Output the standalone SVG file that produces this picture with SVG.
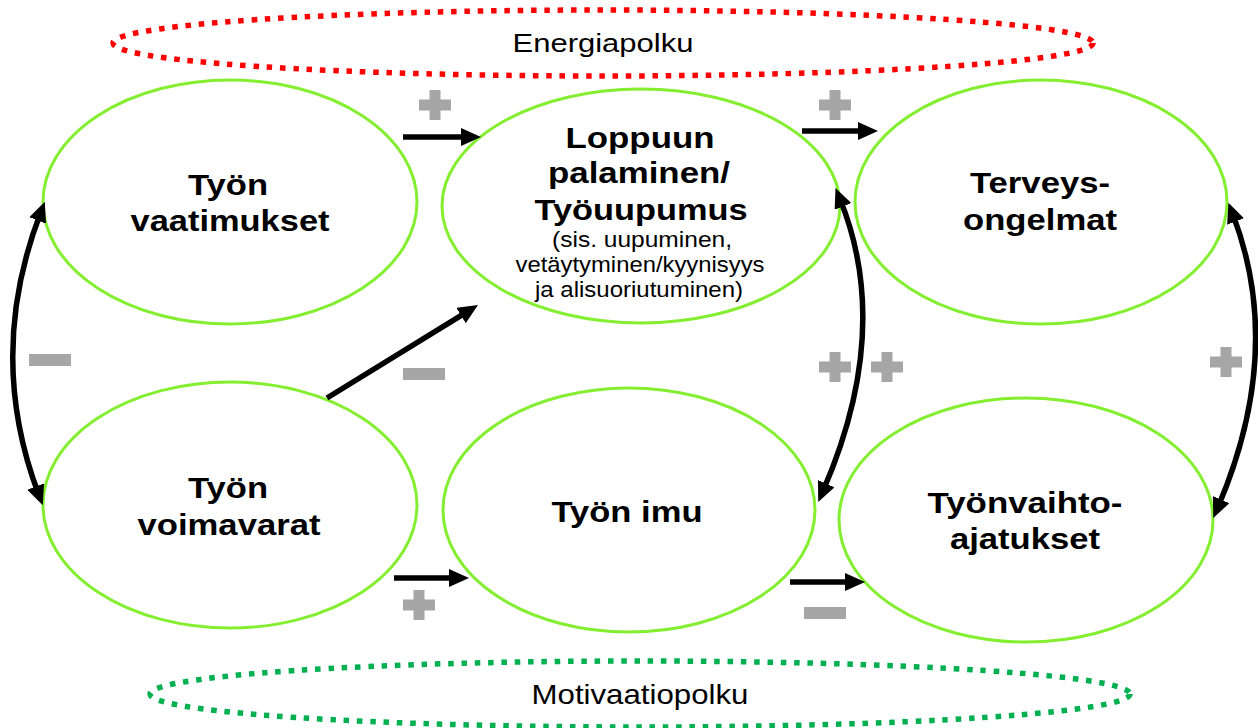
<svg xmlns="http://www.w3.org/2000/svg" width="1258" height="728" viewBox="0 0 1258 728">
  <style>
    .node { fill: #ffffff; stroke: #84ee30; stroke-width: 3; }
    .title { font-family: "Liberation Sans", Arial, sans-serif; font-weight: bold; font-size: 30px; fill: #000; text-anchor: middle; }
    .sub { font-family: "Liberation Sans", Arial, sans-serif; font-size: 22px; fill: #000; text-anchor: middle; }
    .path-label { font-family: "Liberation Sans", Arial, sans-serif; fill: #000; text-anchor: middle; }
    .link { fill: none; stroke: #000; stroke-width: 5.5; }
    .sign { fill: #a6a6a6; }
    .energy { fill: none; stroke: #ff0000; stroke-width: 5.5; stroke-dasharray: 5.5 7.8; }
    .motiv { fill: none; stroke: #00b050; stroke-width: 5.5; stroke-dasharray: 5.5 7.8; }
  </style>
  <defs>
    <marker id="ah" viewBox="0 0 20 18" refX="8" refY="9" markerWidth="20" markerHeight="18" markerUnits="userSpaceOnUse" orient="auto-start-reverse">
      <path d="M0,0 L20,9 L0,18 z" fill="#000"/>
    </marker>
    <path id="plus" d="M-5.5,-15 h11 v9.5 h10.5 v11 h-10.5 v9.5 h-11 v-9.5 h-10.5 v-11 h10.5 z"/>
    <rect id="minus" x="-21" y="-6" width="42" height="12"/>
  </defs>

  <rect width="1258" height="728" fill="#ffffff"/>

  <!-- pathway outlines -->
  <g id="energiapolku">
    <ellipse class="energy" cx="603" cy="43" rx="490" ry="33"/>
    <text class="path-label" x="603" y="52" font-size="26" textLength="181" lengthAdjust="spacingAndGlyphs">Energiapolku</text>
  </g>
  <g id="motivaatiopolku">
    <ellipse class="motiv" cx="640" cy="694" rx="490" ry="33"/>
    <text class="path-label" x="640" y="704" font-size="28" textLength="217" lengthAdjust="spacingAndGlyphs">Motivaatiopolku</text>
  </g>

  <!-- nodes -->
  <g id="tyon-vaatimukset">
    <ellipse class="node" cx="230" cy="202" rx="187" ry="122"/>
    <text class="title" x="228" y="195" textLength="80" lengthAdjust="spacingAndGlyphs">Työn</text>
    <text class="title" x="230" y="231" textLength="199" lengthAdjust="spacingAndGlyphs">vaatimukset</text>
  </g>
  <g id="loppuun-palaminen">
    <ellipse class="node" cx="641" cy="206" rx="199" ry="117"/>
    <text class="title" x="640" y="148" textLength="149" lengthAdjust="spacingAndGlyphs">Loppuun</text>
    <text class="title" x="639" y="183" textLength="182" lengthAdjust="spacingAndGlyphs">palaminen/</text>
    <text class="title" x="641" y="220" textLength="213" lengthAdjust="spacingAndGlyphs">Työuupumus</text>
    <text class="sub" x="642" y="247" textLength="180" lengthAdjust="spacingAndGlyphs">(sis. uupuminen,</text>
    <text class="sub" x="640" y="272" textLength="249" lengthAdjust="spacingAndGlyphs">vetäytyminen/kyynisyys</text>
    <text class="sub" x="639" y="297" textLength="208" lengthAdjust="spacingAndGlyphs">ja alisuoriutuminen)</text>
  </g>
  <g id="terveysongelmat">
    <ellipse class="node" cx="1041" cy="202" rx="186" ry="122"/>
    <text class="title" x="1040" y="193" textLength="140" lengthAdjust="spacingAndGlyphs">Terveys-</text>
    <text class="title" x="1040" y="230" textLength="154" lengthAdjust="spacingAndGlyphs">ongelmat</text>
  </g>
  <g id="tyon-voimavarat">
    <ellipse class="node" cx="230" cy="505" rx="187" ry="123"/>
    <text class="title" x="228" y="498" textLength="80" lengthAdjust="spacingAndGlyphs">Työn</text>
    <text class="title" x="229" y="535" textLength="183" lengthAdjust="spacingAndGlyphs">voimavarat</text>
  </g>
  <g id="tyon-imu">
    <ellipse class="node" cx="629" cy="510" rx="186" ry="122"/>
    <text class="title" x="627" y="522" textLength="151" lengthAdjust="spacingAndGlyphs">Työn imu</text>
  </g>
  <g id="tyonvaihtoajatukset">
    <ellipse class="node" cx="1026" cy="520" rx="187" ry="122"/>
    <text class="title" x="1025" y="513" textLength="195" lengthAdjust="spacingAndGlyphs">Työnvaihto-</text>
    <text class="title" x="1025" y="549" textLength="150" lengthAdjust="spacingAndGlyphs">ajatukset</text>
  </g>

  <!-- connectors -->
  <g id="connectors">
    <line class="link" x1="403" y1="137" x2="469" y2="137" marker-end="url(#ah)"/>
    <line class="link" x1="802" y1="131" x2="866" y2="131" marker-end="url(#ah)"/>
    <line class="link" x1="327" y1="398" x2="467.8" y2="311.3" marker-end="url(#ah)"/>
    <line class="link" x1="394" y1="578" x2="457" y2="578" marker-end="url(#ah)"/>
    <line class="link" x1="790" y1="582" x2="853" y2="582" marker-end="url(#ah)"/>
    <path class="link" d="M40.5,213 Q-14,355 38.5,494" marker-start="url(#ah)" marker-end="url(#ah)"/>
    <path class="link" d="M840,199 Q893,330 823,491" marker-start="url(#ah)" marker-end="url(#ah)"/>
    <path class="link" d="M1232.7,214 Q1285,350 1218,507" marker-start="url(#ah)" marker-end="url(#ah)"/>
  </g>

  <!-- polarity signs -->
  <g id="signs" class="sign">
    <use href="#plus" x="435" y="105"/>
    <use href="#plus" x="835" y="105"/>
    <use href="#plus" x="835" y="367"/>
    <use href="#plus" x="887" y="367"/>
    <use href="#plus" x="1226" y="362"/>
    <use href="#plus" x="419" y="605"/>
    <use href="#minus" x="50" y="360"/>
    <use href="#minus" x="424" y="374"/>
    <use href="#minus" x="825" y="613"/>
  </g>
</svg>
